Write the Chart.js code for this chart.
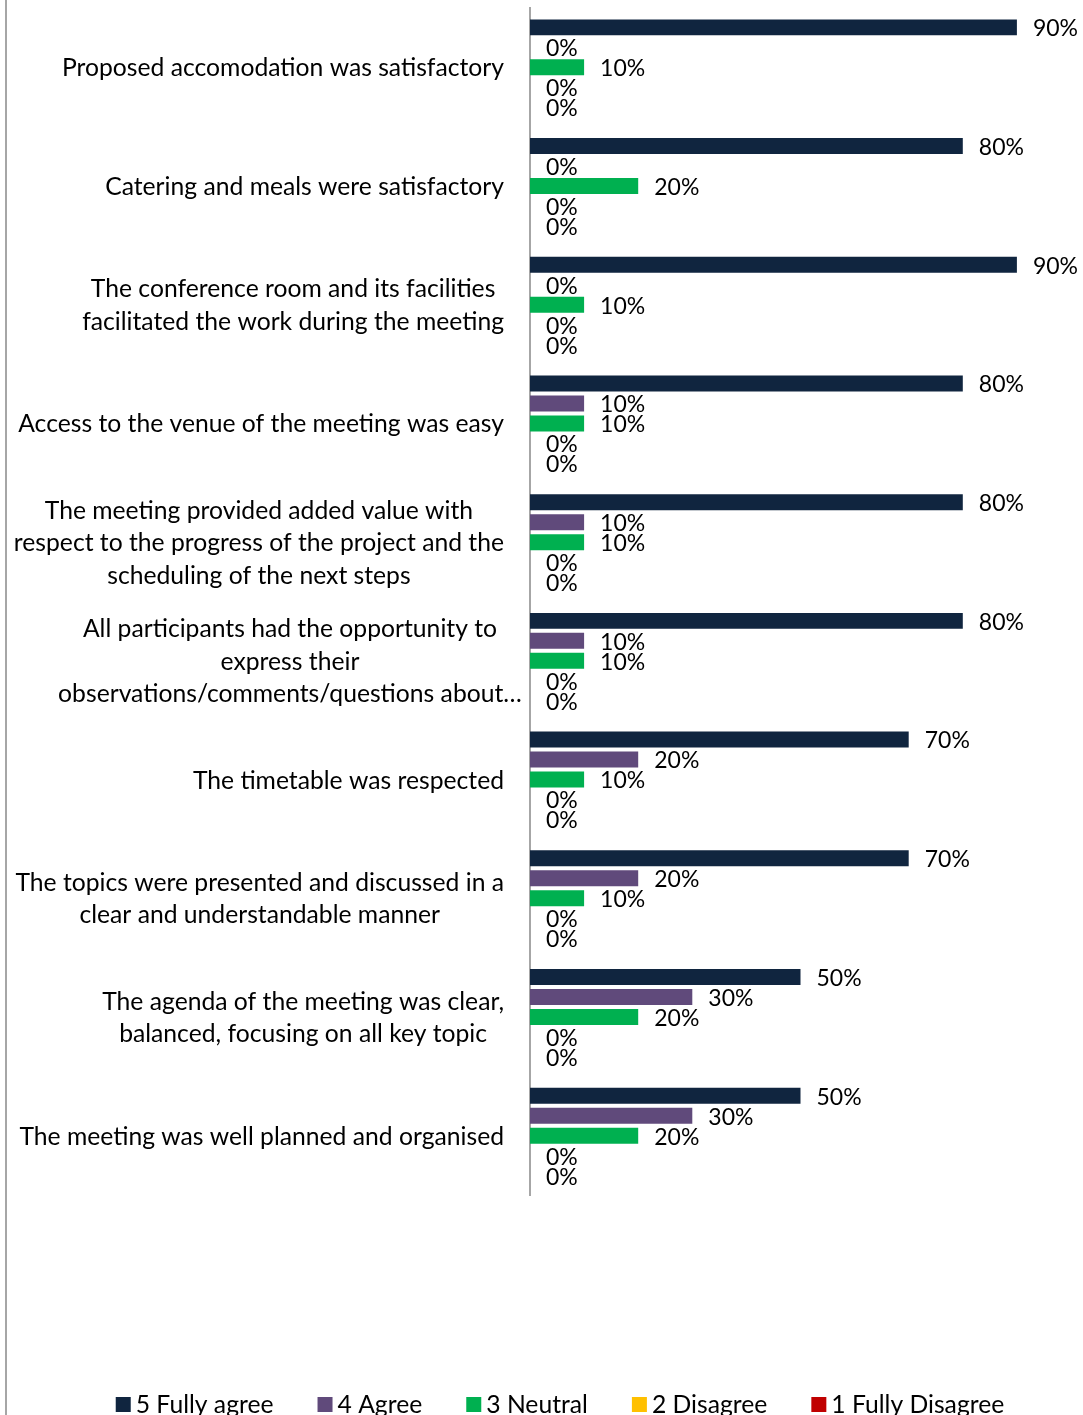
<!DOCTYPE html>
<html>
<head>
<meta charset="utf-8">
<script src="https://cdn.jsdelivr.net/npm/chart.js@4/dist/chart.umd.min.js"></script>
<style>
  html, body { margin: 0; padding: 0; background: #fff; overflow: hidden; }
  #wrap { width: 1083px; height: 1415px; }
</style>
</head>
<body>
<div id="wrap"><canvas id="c" width="1083" height="1415"></canvas></div>
<script>
const categories = [
  ["Proposed accomodation was satisfactory"],
  ["Catering and meals were satisfactory"],
  ["The conference room and its facilities", "facilitated the work during the meeting"],
  ["Access to the venue of the meeting was easy"],
  ["The meeting provided added value with", "respect to the progress of the project and the", "scheduling of the next steps"],
  ["All participants had the opportunity to", "express their", "observations/comments/questions about\u2026"],
  ["The timetable was respected"],
  ["The topics were presented and discussed in a", "clear and understandable manner"],
  ["The agenda of the meeting was clear,", "balanced, focusing on all key topic"],
  ["The meeting was well planned and organised"]
];
const seriesNames = ["5 Fully agree", "4 Agree", "3 Neutral", "2 Disagree", "1 Fully Disagree"];
const fullyAgree    = [90, 80, 90, 80, 80, 80, 70, 70, 50, 50];
const agree         = [0, 0, 0, 10, 10, 10, 20, 20, 30, 30];
const neutral       = [10, 20, 10, 10, 10, 10, 10, 10, 20, 20];
const disagree      = [0, 0, 0, 0, 0, 0, 0, 0, 0, 0];
const fullyDisagree = [0, 0, 0, 0, 0, 0, 0, 0, 0, 0];
const seriesColors = ["#10253F", "#604A7B", "#00B050", "#FFC000", "#C00000"];

const FONT = "Lato";
const FS_VAL = 23;
const FS_CAT = 24.7;

const labelPlugin = {
  id: 'customLabels',
  afterDatasetsDraw(chart) {
    const ctx = chart.ctx;
    ctx.save();
    ctx.font = FS_VAL + "px " + FONT;
    ctx.fillStyle = "#000";
    ctx.textBaseline = "middle";
    ctx.textAlign = "left";
    chart.data.datasets.forEach((ds, di) => {
      const meta = chart.getDatasetMeta(di);
      meta.data.forEach((bar, i) => {
        ctx.fillText(ds.data[i] + "%", bar.x + 16, bar.y + 1.5);
      });
    });
    // category labels
    ctx.font = FS_CAT + "px " + FONT;
    const ys = chart.scales.y;
    const rightEdge = ys.right - 26;
    const lh = 32.5;
    ctx.textAlign = "center";
    categories.forEach((lines, i) => {
      const cy = ys.getPixelForValue(i);
      let widest = 0;
      lines.forEach(l => { if (!l.endsWith("\u2026")) widest = Math.max(widest, ctx.measureText(l).width); });
      let cx = rightEdge - widest / 2;
      if (lines.some(l => l.endsWith("\u2026"))) cx -= 7;
      const top = cy - (lines.length - 1) * lh / 2;
      lines.forEach((l, k) => ctx.fillText(l, cx, top + k * lh + 1));
    });
    // legend (custom, Excel-like spacing)
    ctx.textAlign = "left";
    const box = 15, gapBoxText = 5, gapItems = 44;
    const widths = seriesNames.map(n => box + gapBoxText + ctx.measureText(n).width);
    const total = widths.reduce((a, b) => a + b, 0) + gapItems * (seriesNames.length - 1);
    let x = 560 - total / 2;
    const ly = 1405;
    seriesNames.forEach((n, i) => {
      ctx.fillStyle = seriesColors[i];
      ctx.fillRect(x, ly - 8, box, box);
      ctx.fillStyle = "#000";
      ctx.fillText(n, x + box + gapBoxText, ly);
      x += widths[i] + gapItems;
    });
    // left frame line
    ctx.strokeStyle = "#A6A6A6";
    ctx.lineWidth = 2;
    ctx.beginPath();
    ctx.moveTo(6, 0);
    ctx.lineTo(6, chart.height);
    ctx.stroke();
    ctx.restore();
  }
};

const allSeries = [fullyAgree, agree, neutral, disagree, fullyDisagree];

new Chart(document.getElementById('c'), {
  type: 'bar',
  data: {
    labels: categories.map(c => c.join(' ')),
    datasets: allSeries.map((d, i) => ({
      label: seriesNames[i],
      data: d,
      backgroundColor: seriesColors[i],
      borderWidth: 0,
      categoryPercentage: 0.842,
      barPercentage: 0.8
    }))
  },
  options: {
    indexAxis: 'y',
    responsive: false,
    animation: false,
    devicePixelRatio: 1,
    layout: { padding: { top: 8, right: 12, left: 0, bottom: 0 } },
    scales: {
      x: {
        min: 0, max: 100,
        display: true,
        grid: { display: false },
        border: { display: false },
        ticks: { display: false },
        afterFit(scale) { scale.height = 220; }
      },
      y: {
        grid: { display: false },
        border: { display: true, color: "#A6A6A6", width: 2 },
        ticks: { display: false },
        afterFit(scale) { scale.width = 530; }
      }
    },
    plugins: {
      tooltip: { enabled: false },
      legend: { display: false }
    }
  },
  plugins: [labelPlugin]
});
</script>
</body>
</html>
